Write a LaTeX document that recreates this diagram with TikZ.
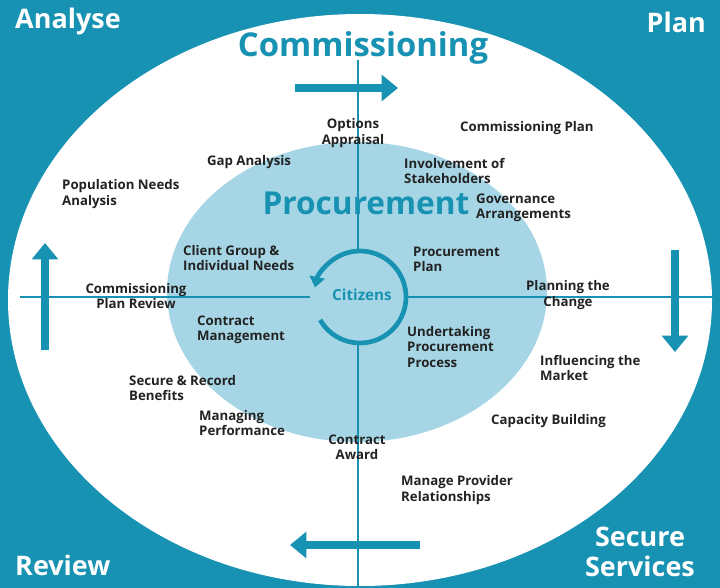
\documentclass[tikz,border=0pt]{standalone}
\usepackage{fontspec}
\setmainfont{Open Sans}
\usetikzlibrary{arrows.meta}
\definecolor{teal1}{HTML}{1892B2}
\definecolor{lblue}{HTML}{A6D6E5}
\definecolor{txt}{HTML}{222222}
\begin{document}
\begin{tikzpicture}[x=0.03cm,y=-0.03cm,
 lbl/.style={font=\fontsize{11.3}{13}\selectfont\bfseries,text=txt,inner sep=0pt},
 lbll/.style={lbl,align=left,anchor=west},
 lblc/.style={lbl,align=center},
 corner/.style={font=\fontsize{23}{25}\selectfont\bfseries,text=white,inner sep=0pt},
 line/.style={teal1,line width=2.2pt},
 bigarrow/.style={teal1,line width=6pt,-{Triangle[length=14pt,width=22pt]}}]
\useasboundingbox (0,0) rectangle (720,588);
\fill[teal1] (0,0) rectangle (720,588);
\fill[white] (360,300) ellipse [x radius=352,y radius=286];
\fill[lblue] (357,292) ellipse [x radius=190,y radius=150];
\draw[line] (358,60) -- (358,250);
\draw[line] (358,343) -- (358,588);
\draw[line] (20,297) -- (310,297);
\draw[line] (408,297) -- (712,297);
\draw[teal1,line width=4pt,-{Triangle[length=9pt,width=13pt]}] (360,297) ++(150:46) arc[start angle=150,end angle=-168,radius=46];
\node[font=\fontsize{13}{15}\selectfont\bfseries,text=teal1] (cit) at (362,295) {Citizens};
\draw[bigarrow] (295,88) -- (398,88);
\draw[bigarrow] (45,350) -- (45,243);
\draw[bigarrow] (675,250) -- (675,352);
\draw[bigarrow] (420,545) -- (290,545);
\node[font=\fontsize{28}{30}\selectfont\bfseries,text=teal1] (com) at (363,48) {Commissioning};
\node[font=\fontsize{27}{29}\selectfont\bfseries,text=teal1] (pro) at (366,203) {Procurement};
\node[corner,anchor=west] (an) at (15,22) {Analyse};
\node[corner,anchor=east] (pl) at (706,22) {Plan};
\node[corner,anchor=west] (rv) at (15,565) {Review};
\node[corner,align=center] (ss) at (640,552) {Secure\\Services};
\node[lblc] (oa) at (353,133) {Options\\Appraisal};
\node[lbll] (cp) at (460,128) {Commissioning Plan};
\node[lblc] (ga) at (249,162) {Gap Analysis};
\node[lbll] (is) at (404,171) {Involvement of\\Stakeholders};
\node[lbll] (pn) at (62,194) {Population Needs\\Analysis};
\node[lbll] (gv) at (476,208) {Governance\\Arrangements};
\node[lbll] (pp) at (413,259) {Procurement\\Plan};
\node[lbll] (cg) at (183,258) {Client Group \&\\Individual Needs};
\node[lblc] (cr) at (136,296) {Commissioning\\Plan Review};
\node[lblc] (pc) at (568,295) {Planning the\\Change};
\node[lbll] (cm) at (197,330) {Contract\\Management};
\node[lbll] (up) at (407,347) {Undertaking\\Procurement\\Process};
\node[lbll] (im) at (540,368) {Influencing the\\Market};
\node[lbll] (sr) at (129,388) {Secure \& Record\\Benefits};
\node[lbll] (mp) at (199,423) {Managing\\Performance};
\node[lbll] (cb) at (491,421) {Capacity Building};
\node[lblc] (ca) at (357,447) {Contract\\Award};
\node[lbll] (mr) at (401,490) {Manage Provider\\Relationships};
\end{tikzpicture}
\end{document}
